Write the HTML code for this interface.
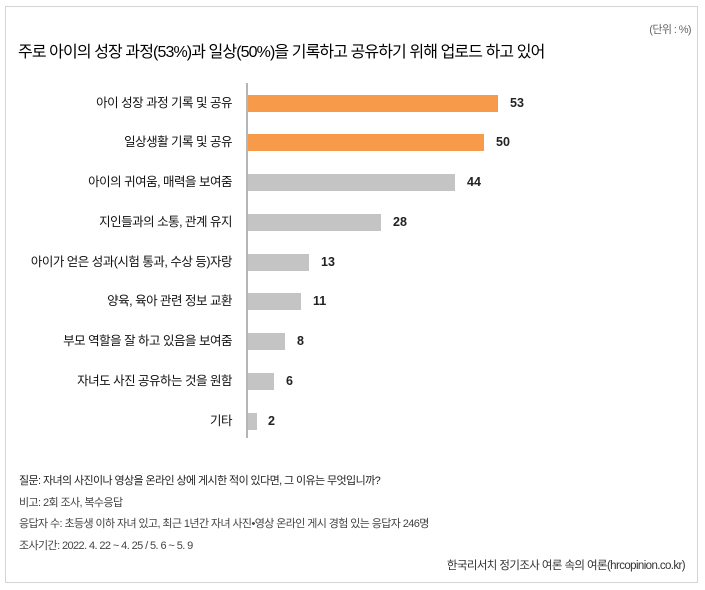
<!DOCTYPE html>
<html><head><meta charset="utf-8"><style>
body{margin:0;width:705px;height:590px;background:#fff;font-family:"Liberation Sans","Noto Sans CJK KR",sans-serif;position:relative;overflow:hidden;color:#222}
.box{position:absolute;left:5px;top:6px;width:693px;height:577px;border:1px solid #d4d4d4;box-sizing:border-box}
.t{position:absolute;white-space:nowrap;letter-spacing:-0.6px}
.lab{position:absolute;right:473px;font-size:12.5px;color:#111;white-space:nowrap;letter-spacing:-0.5px;line-height:16px}
.bar{position:absolute;left:248px;height:17px}
.val{position:absolute;font-size:12.5px;font-weight:bold;color:#222;line-height:16px}
.f{position:absolute;left:19px;font-size:11px;color:#444;white-space:nowrap;letter-spacing:-0.6px;line-height:14px}
</style></head><body>
<div class="box"></div>
<div class="t" style="right:14px;top:21px;font-size:11px;color:#666">(단위 : %)</div>
<div class="t" style="left:18px;top:38px;font-size:16px;color:#000;letter-spacing:-0.9px">주로 아이의 성장 과정(53%)과 일상(50%)을 기록하고 공유하기 위해 업로드 하고 있어</div>
<div style="position:absolute;left:246px;top:83px;width:2px;height:355px;background:#b5b5b5"></div>

<div class="lab" style="top:95px">아이 성장 과정 기록 및 공유</div>
<div class="bar" style="top:95px;width:250px;background:#f79a4a"></div>
<div class="val" style="left:510px;top:95px">53</div>

<div class="lab" style="top:134px">일상생활 기록 및 공유</div>
<div class="bar" style="top:134px;width:236px;background:#f79a4a"></div>
<div class="val" style="left:496px;top:134px">50</div>

<div class="lab" style="top:174px">아이의 귀여움, 매력을 보여줌</div>
<div class="bar" style="top:174px;width:207px;background:#c4c4c4"></div>
<div class="val" style="left:467px;top:174px">44</div>

<div class="lab" style="top:214px">지인들과의 소통, 관계 유지</div>
<div class="bar" style="top:214px;width:133px;background:#c4c4c4"></div>
<div class="val" style="left:393px;top:214px">28</div>

<div class="lab" style="top:254px">아이가 얻은 성과(시험 통과, 수상 등)자랑</div>
<div class="bar" style="top:254px;width:61px;background:#c4c4c4"></div>
<div class="val" style="left:321px;top:254px">13</div>

<div class="lab" style="top:293px">양육, 육아 관련 정보 교환</div>
<div class="bar" style="top:293px;width:53px;background:#c4c4c4"></div>
<div class="val" style="left:313px;top:293px">11</div>

<div class="lab" style="top:333px">부모 역할을 잘 하고 있음을 보여줌</div>
<div class="bar" style="top:333px;width:37px;background:#c4c4c4"></div>
<div class="val" style="left:297px;top:333px">8</div>

<div class="lab" style="top:373px">자녀도 사진 공유하는 것을 원함</div>
<div class="bar" style="top:373px;width:26px;background:#c4c4c4"></div>
<div class="val" style="left:286px;top:373px">6</div>

<div class="lab" style="top:413px">기타</div>
<div class="bar" style="top:413px;width:9px;background:#c4c4c4"></div>
<div class="val" style="left:268px;top:413px">2</div>

<div class="f" style="top:474px;color:#222">질문: 자녀의 사진이나 영상을 온라인 상에 게시한 적이 있다면, 그 이유는 무엇입니까?</div>
<div class="f" style="top:496px">비고: 2회 조사, 복수응답</div>
<div class="f" style="top:517px">응답자 수: 초등생 이하 자녀 있고, 최근 1년간 자녀 사진•영상 온라인 게시 경험 있는 응답자 246명</div>
<div class="f" style="top:539px">조사기간: 2022. 4. 22 ~ 4. 25 / 5. 6 ~ 5. 9</div>
<div class="f" style="left:auto;right:20px;top:559px;color:#333;font-size:11.5px">한국리서치 정기조사 여론 속의 여론(hrcopinion.co.kr)</div>
</body></html>
